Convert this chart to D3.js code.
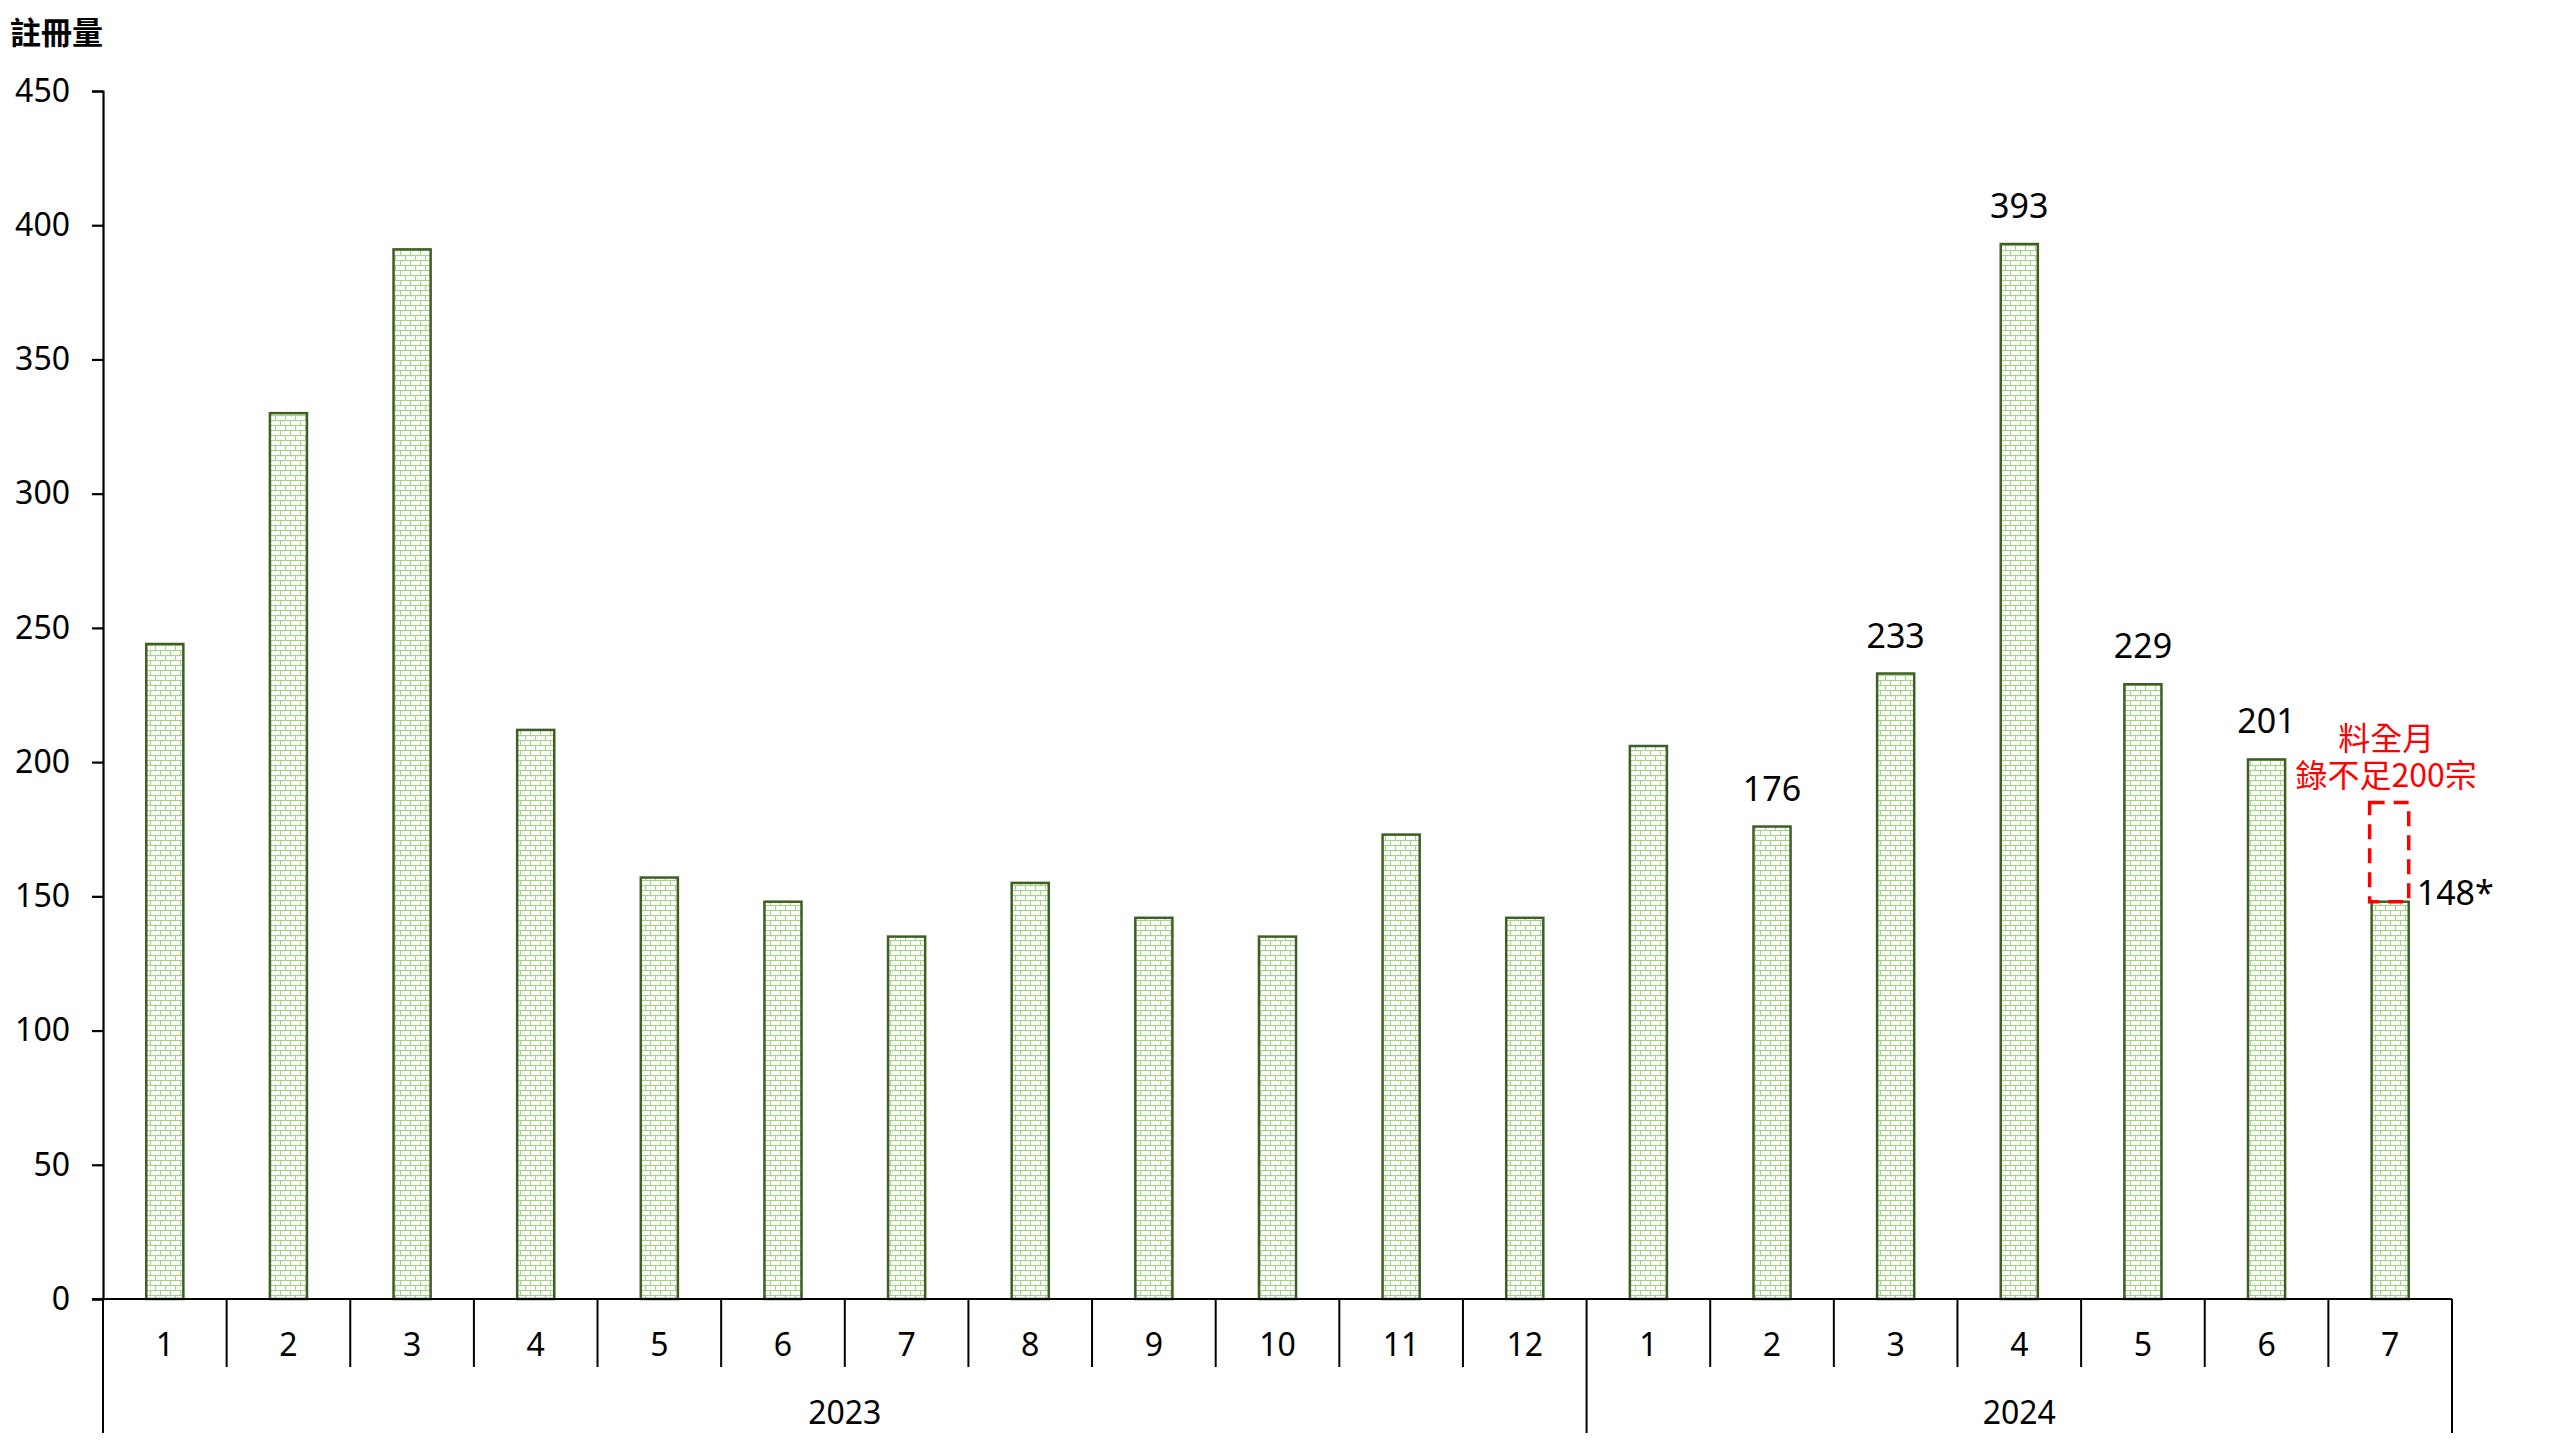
<!DOCTYPE html>
<html>
<head>
<meta charset="utf-8">
<script src="https://cdn.jsdelivr.net/npm/d3@7"></script>
<style>
  html, body { margin: 0; padding: 0; background: #fff; }
  svg { display: block; font-family: "Noto Sans", "Noto Sans CJK TC", sans-serif; }
</style>
</head>
<body>
<svg id="chart" width="2560" height="1440"></svg>
<script>
// ---- data ----
const years = ["2023", "2024"];
const months2023 = ["1","2","3","4","5","6","7","8","9","10","11","12"];
const months2024 = ["1","2","3","4","5","6","7"];
const values2023 = [244, 330, 391, 212, 157, 148, 135, 155, 142, 135, 173, 142];
const values2024 = [206, 176, 233, 393, 229, 201, 148];
const labelled2024 = ["", "176", "233", "393", "229", "201", "148*"];
const yTicks = [0, 50, 100, 150, 200, 250, 300, 350, 400, 450];
const yTitle = "註冊量";
const noteLines = ["料全月", "錄不足200宗"];
const partialBoxTop = 185;   // value up to which the dashed "incomplete month" box reaches

(function () {
// ---- build rows ----
const rows = [];
months2023.forEach((m, i) => rows.push({ key: "2023-" + m, year: "2023", month: m, value: values2023[i], label: "" }));
months2024.forEach((m, i) => rows.push({ key: "2024-" + m, year: "2024", month: m, value: values2024[i], label: labelled2024[i] }));

// ---- layout ----
const plotLeft = 103, plotRight = 2452, plotTop = 91, plotBottom = 1299;
const monthTickEnd = 1367, yearTickEnd = 1433;

const svg = d3.select("#chart");
svg.append("rect").attr("width", 2560).attr("height", 1440).attr("fill", "#fff");

const x = d3.scaleBand().domain(rows.map(d => d.key)).range([plotLeft, plotRight])
  .paddingInner(0.7).paddingOuter(0.35);
const y = d3.scaleLinear().domain([0, 450]).range([plotBottom, plotTop]);
const step = x.step();

// pattern (small brick)
const defs = svg.append("defs");
const pat = defs.append("pattern").attr("id", "brick").attr("patternUnits", "userSpaceOnUse")
  .attr("width", 10).attr("height", 10);
pat.append("rect").attr("width", 10).attr("height", 10).attr("fill", "#fff");
const pc = "#a9d18e";
pat.append("line").attr("x1", 0).attr("x2", 10).attr("y1", 0.5).attr("y2", 0.5).attr("stroke", pc).attr("stroke-width", 1.2);
pat.append("line").attr("x1", 0).attr("x2", 10).attr("y1", 5.5).attr("y2", 5.5).attr("stroke", pc).attr("stroke-width", 1.2);
pat.append("line").attr("x1", 0.5).attr("x2", 0.5).attr("y1", 0).attr("y2", 5.5).attr("stroke", pc).attr("stroke-width", 1.2);
pat.append("line").attr("x1", 5.5).attr("x2", 5.5).attr("y1", 5.5).attr("y2", 10).attr("stroke", pc).attr("stroke-width", 1.2);

// bars
svg.append("g").selectAll("rect").data(rows).join("rect")
  .attr("x", d => x(d.key))
  .attr("y", d => y(d.value))
  .attr("width", x.bandwidth())
  .attr("height", d => y(0) - y(d.value))
  .attr("fill", "url(#brick)")
  .attr("stroke", "#3d5f22")
  .attr("stroke-width", 2.5);

// y axis
const yAxis = d3.axisLeft(y).tickValues(yTicks).tickSize(11).tickSizeOuter(11).tickPadding(22);
const gy = svg.append("g").attr("transform", `translate(${plotLeft},0)`).call(yAxis);
gy.selectAll("path, line").attr("stroke", "#000").attr("stroke-width", 2.2);
gy.selectAll("text").attr("font-size", 32).attr("fill", "#000")
  .attr("font-family", "'Noto Sans', sans-serif");

// x axis baseline
svg.append("line").attr("x1", plotLeft - 11).attr("x2", plotRight).attr("y1", y(0)).attr("y2", y(0))
  .attr("stroke", "#000").attr("stroke-width", 2.2);

// category separators
const nCat = rows.length;
const yearStarts = [0, months2023.length, nCat];
for (let i = 0; i <= nCat; i++) {
  const bx = x(rows[Math.min(i, nCat - 1)].key) - step * x.paddingOuter() + (i === nCat ? step : 0);
  const isYear = yearStarts.includes(i);
  svg.append("line").attr("x1", bx).attr("x2", bx)
    .attr("y1", y(0)).attr("y2", isYear ? yearTickEnd : monthTickEnd)
    .attr("stroke", "#000").attr("stroke-width", 2);
}

// month labels
svg.append("g").selectAll("text").data(rows).join("text")
  .attr("x", d => x(d.key) + x.bandwidth() / 2)
  .attr("y", 1356)
  .attr("text-anchor", "middle")
  .attr("font-size", 32)
  .text(d => d.month);

// year labels
years.forEach(yr => {
  const items = rows.filter(d => d.year === yr);
  const x0 = x(items[0].key) - step * x.paddingOuter();
  const x1 = x(items[items.length - 1].key) - step * x.paddingOuter() + step;
  svg.append("text").attr("x", (x0 + x1) / 2).attr("y", 1424)
    .attr("text-anchor", "middle").attr("font-size", 32).text(yr);
});

// value labels
rows.filter(d => d.label && !d.label.endsWith("*")).forEach(d => {
  svg.append("text").attr("x", x(d.key) + x.bandwidth() / 2).attr("y", y(d.value) - 26)
    .attr("text-anchor", "middle").attr("font-size", 34).text(d.label);
});
rows.filter(d => d.label && d.label.endsWith("*")).forEach(d => {
  svg.append("text").attr("x", x(d.key) + x.bandwidth() + 8).attr("y", y(d.value) + 3)
    .attr("font-size", 34).text(d.label);
  // dashed incomplete-month box
  svg.append("rect").attr("x", x(d.key) - 2).attr("y", y(partialBoxTop))
    .attr("width", x.bandwidth() + 2).attr("height", y(d.value) - y(partialBoxTop))
    .attr("fill", "none").attr("stroke", "#ff0000").attr("stroke-width", 3.5)
    .attr("stroke-dasharray", "15,9");
  const cx = x(d.key) + x.bandwidth() / 2 - 4;
  const note = svg.append("text").attr("text-anchor", "middle").attr("font-size", 32)
    .attr("fill", "#ff0000")
    .attr("font-family", "'Noto Sans CJK TC', 'Noto Sans', sans-serif");
  noteLines.forEach((t, i) => {
    note.append("tspan").attr("x", cx).attr("y", 750 + i * 37).text(t);
  });
});

// y title
svg.append("text").attr("x", 10).attr("y", 44).attr("font-size", 31).attr("font-weight", "bold")
  .attr("font-family", "'Noto Sans CJK TC', sans-serif").text(yTitle);
})();
</script>
</body>
</html>
